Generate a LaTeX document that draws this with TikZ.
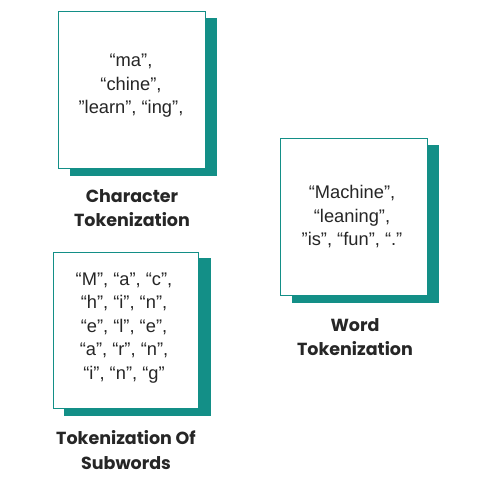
\documentclass[tikz,border=0pt]{standalone}
\usepackage{fontspec}
\setmainfont{Liberation Sans}
\newfontfamily\labelfont{Poppins}
\definecolor{tealbox}{HTML}{138F87}
\begin{document}
\begin{tikzpicture}[x=1pt,y=-1pt,
  card/.style={draw=tealbox,line width=0.8pt,fill=white},
  shade/.style={fill=tealbox},
  body/.style={align=center,font=\fontsize{18.3}{23.5}\selectfont,text=black!85},
  caption/.style={align=center,font=\labelfont\bfseries\fontsize{17.5}{24.5}\selectfont,text=black!85}]
\useasboundingbox (0,0) rectangle (488,485);
% character tokenization card
\fill[shade] (70,18) rectangle (217,176);
\draw[card] (58,11) rectangle (205,168);
\node[body] (chars) at (131,86) {“ma”,\\“chine”,\\"learn”, “ing”,};
\node[caption] (charlab) at (132,208) {Character\\Tokenization};
% word tokenization card
\fill[shade] (292,145) rectangle (439,303);
\draw[card] (280,138) rectangle (427,295);
\node[body] (words) at (352,217) {“Machine”,\\“leaning”,\\"is”, “fun”, “.”};
\node[caption] (wordlab) at (355,337) {Word\\Tokenization};
% subword tokenization card
\fill[shade] (64,258) rectangle (211,416);
\draw[card] (53,252) rectangle (198,408);
\node[body] (subs) at (124,328) {“M”, “a”, “c”,\\“h”, “i”, “n”,\\“e”, “l”, “e”,\\“a”, “r”, “n”,\\“i”, “n”, “g”};
\node[caption] (sublab) at (126,450) {Tokenization Of\\Subwords};
\end{tikzpicture}
\end{document}
